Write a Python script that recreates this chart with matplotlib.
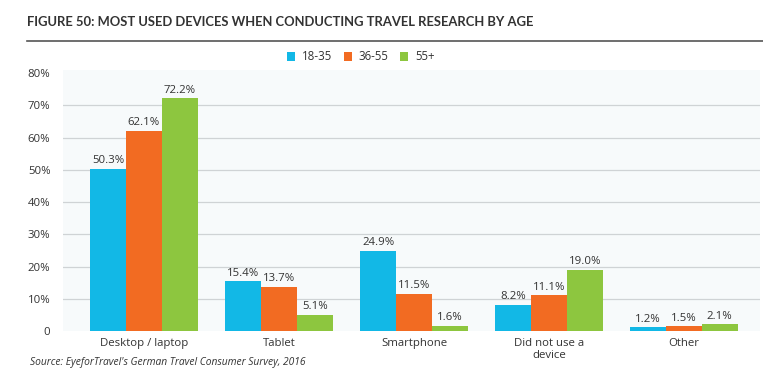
import numpy as np
import matplotlib
matplotlib.use("Agg")
import matplotlib.pyplot as plt

categories = ["Desktop / laptop", "Tablet", "Smartphone", "Did not use a\ndevice", "Other"]
age_groups = ["18-35", "36-55", "55+"]
young = [50.3, 15.4, 24.9, 8.2, 1.2]
middle = [62.1, 13.7, 11.5, 11.1, 1.5]
older = [72.2, 5.1, 1.6, 19.0, 2.1]
colors = ["#12b8e6", "#f26b22", "#8dc63f"]

plt.rcParams["font.family"] = ["Open Sans", "DejaVu Sans"]

fig = plt.figure(figsize=(7.63, 3.90), dpi=100)
ax = fig.add_axes([63 / 763, 1 - 331 / 390, (760 - 63) / 763, (331 - 70) / 390])

x = np.arange(len(categories))
width = 0.265
for i, (vals, col, name) in enumerate(zip([young, middle, older], colors, age_groups)):
    bars = ax.bar(x + (i - 1) * width, vals, width, color=col, label=name, zorder=3)
    for bar, v in zip(bars, vals):
        ax.text(bar.get_x() + bar.get_width() / 2, v + 0.8, f"{v:.1f}%",
                ha="center", va="bottom", fontsize=8.2, color="#333333", zorder=4)

ax.set_facecolor("#f7fafb")
ax.set_xlim(-0.6, 4.563)
ax.set_ylim(0, 81)
ax.set_yticks(range(0, 81, 10))
ax.set_yticklabels(["0"] + [f"{t}%" for t in range(10, 81, 10)])
ax.set_xticks(x)
ax.set_xticklabels(categories, linespacing=1.1)
ax.tick_params(length=0, labelsize=8.2, colors="#333333")
ax.tick_params(axis="y", pad=9)
ax.tick_params(axis="x", pad=5)
for t in range(10, 80, 10):
    ax.axhline(t, color="#cfd3d5", lw=0.9, zorder=1)
for s in ax.spines.values():
    s.set_visible(False)

# title + rule underneath
fig.text(27 / 763, 1 - 22 / 390, "FIGURE 50: MOST USED DEVICES WHEN CONDUCTING TRAVEL RESEARCH BY AGE",
         fontsize=9.4, fontweight="bold", color="#333333", va="center", ha="left",
         family=["Lato", "Open Sans"])
fig.add_artist(plt.Line2D([27 / 763, 1], [1 - 41 / 390, 1 - 41 / 390], color="#555555", lw=1.2))

fig.legend(loc="center", bbox_to_anchor=(361 / 763, 1 - 57 / 390), ncol=3, frameon=False,
           fontsize=8.3, handlelength=0.7, handleheight=0.7, handletextpad=0.6, columnspacing=1.0,
           labelcolor="#333333")

fig.text(30 / 763, 1 - 363 / 390, "Source: EyeforTravel's German Travel Consumer Survey, 2016",
         fontsize=7.4, fontstyle="italic", color="#333333", va="center", ha="left")

fig.savefig("out.png", dpi=100)
